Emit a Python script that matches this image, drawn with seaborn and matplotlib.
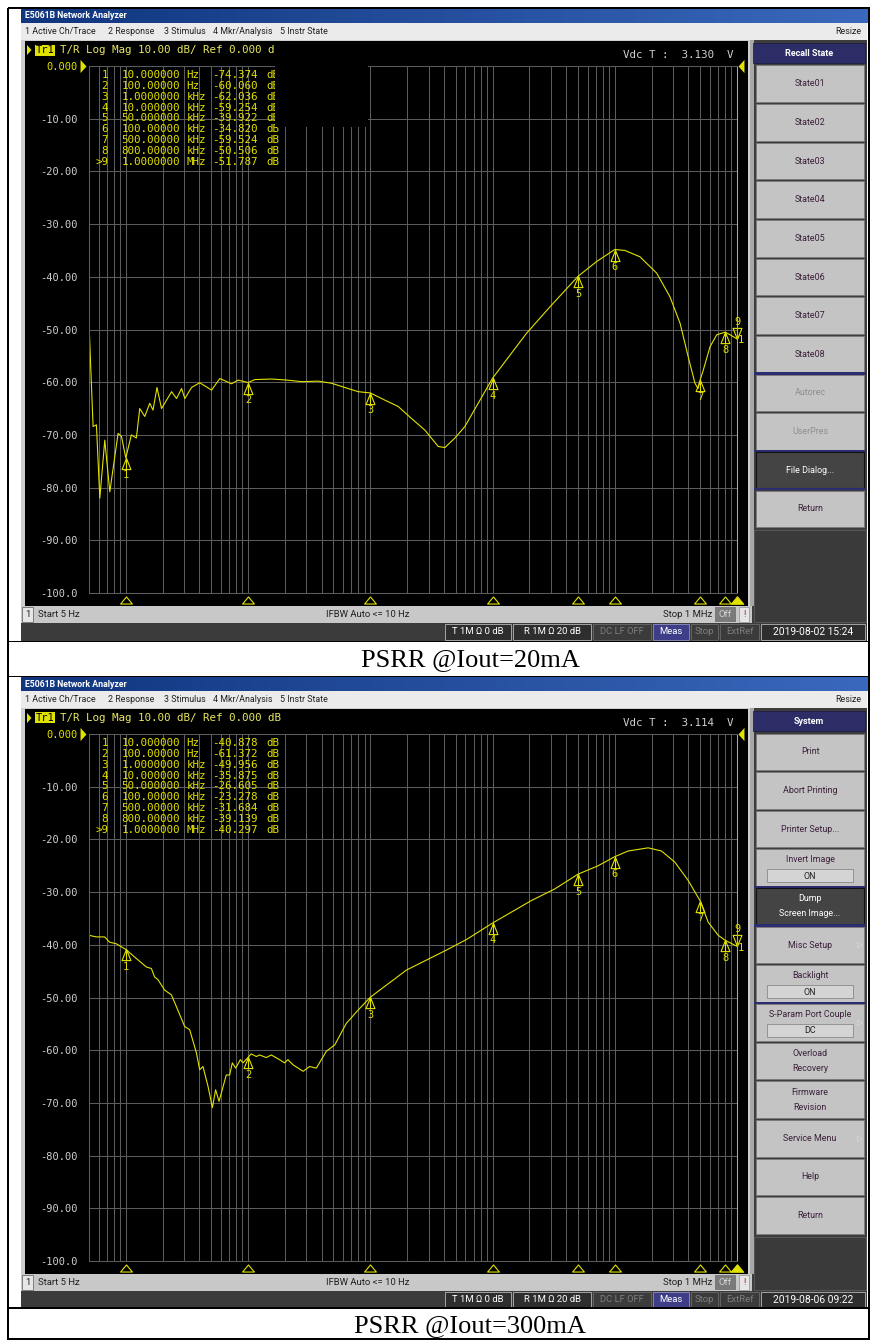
import numpy as np
import pandas as pd
import matplotlib
matplotlib.use("Agg")
import matplotlib.pyplot as plt
import seaborn as sns
from matplotlib.patches import Rectangle, Polygon
from matplotlib.path import Path
from matplotlib.markers import MarkerStyle
from matplotlib.colors import LinearSegmentedColormap
from matplotlib.ticker import LogLocator, NullFormatter
from matplotlib.transforms import blended_transform_factory

# trace, Iout = 20 mA  (Hz, dB)
freq_20ma = [5.0, 5.24, 5.40, 5.75, 6.13, 6.73, 7.40, 8.65, 9.22, 10, 11.1, 12.2, 13.0, 14.3,
             15.7, 16.7, 18.0, 19.6, 23.7, 26.0, 28.6, 30.4, 34.5, 40.3, 50.3, 58.8, 73.3, 83.0,
             100, 114, 156, 209, 274, 375, 482, 659, 796, 1000, 1315, 1690, 2177, 2799, 3596,
             4078, 4923, 5944, 10000, 19000, 29500, 50000, 71100, 100000, 121000, 160700,
             220300, 283000, 342000, 399000, 453000, 480000, 500000, 530000, 601000, 682000,
             800000, 877000, 1000000]
db_20ma = [-48.8, -60.8, -68.4, -68.1, -82.0, -71.0, -80.8, -69.7, -70.3, -74.374, -70.0, -70.6,
           -65.0, -66.5, -64.0, -65.3, -61.0, -65.0, -61.8, -63.1, -61.2, -63.1, -61.0, -60.1,
           -61.5, -59.3, -60.3, -59.6, -60.06, -59.5, -59.4, -59.6, -59.9, -59.8, -60.2, -61.2,
           -61.8, -62.036, -63.4, -64.6, -66.9, -69.1, -72.2, -72.4, -70.6, -68.4, -59.254,
           -50.7, -45.7, -39.922, -37.1, -34.82, -35.0, -36.2, -39.3, -43.8, -48.8, -55.2,
           -60.2, -61.2, -59.524, -57.7, -53.3, -51.0, -50.506, -51.0, -51.787]

# trace, Iout = 300 mA
freq_300ma = [5.0, 5.74, 6.71, 7.37, 8.36, 10, 12.2, 14.7, 16.2, 17.2, 18.3, 20.8, 23.6, 25.9,
              30.3, 33.3, 37.8, 40.2, 42.8, 47.1, 51.1, 54.3, 57.9, 66.4, 70.7, 74.4, 79.2,
              86.5, 91.0, 100, 106, 117, 124, 141, 155, 181, 199, 212, 234, 282, 319, 362, 437,
              512, 637, 794, 1000, 1194, 1537, 1974, 2877, 4196, 6120, 10000, 20800, 32300,
              50000, 73100, 100000, 128800, 187600, 241000, 309700, 399000, 500000, 581000,
              702000, 800000, 1000000]
db_300ma = [-38.2, -38.5, -38.5, -39.5, -39.8, -40.878, -42.6, -44.2, -44.5, -46.1, -46.6, -48.6,
            -49.5, -51.7, -55.5, -56.1, -60.5, -63.7, -63.1, -66.9, -70.9, -67.5, -69.7, -64.7,
            -64.7, -62.4, -63.4, -61.8, -62.4, -61.372, -60.7, -61.2, -60.9, -61.4, -60.9, -61.8,
            -62.4, -61.8, -62.8, -64.0, -63.1, -63.4, -60.2, -59.0, -54.9, -52.4, -49.956, -48.6,
            -46.7, -44.8, -42.9, -41.0, -39.0, -35.875, -31.6, -29.4, -26.605, -25.0, -23.278,
            -22.2, -21.6, -22.2, -24.3, -27.8, -31.684, -35.7, -38.2, -39.139, -40.297]

marker_freq = [10, 100, 1e3, 1e4, 5e4, 1e5, 5e5, 8e5, 1e6]
marker_db_20ma = [-74.374, -60.060, -62.036, -59.254, -39.922, -34.820, -59.524, -50.506, -51.787]
marker_db_300ma = [-40.878, -61.372, -49.956, -35.875, -26.605, -23.278, -31.684, -39.139, -40.297]
marker_freq_text = ["10.000000", "100.00000", "1.0000000", "10.000000", "50.000000",
                    "100.00000", "500.00000", "800.00000", "1.0000000"]
marker_unit = ["Hz", "Hz", "kHz", "kHz", "kHz", "kHz", "kHz", "kHz", "MHz"]

ytick_db = [0, -10, -20, -30, -40, -50, -60, -70, -80, -90, -100]
ytick_text = ["0.000", "-10.00", "-20.00", "-30.00", "-40.00", "-50.00",
              "-60.00", "-70.00", "-80.00", "-90.00", "-100.0"]

menu_items = ["1 Active Ch/Trace", "2 Response", "3 Stimulus", "4 Mkr/Analysis", "5 Instr State"]
softkeys_20ma = [("State01", "n"), ("State02", "n"), ("State03", "n"), ("State04", "n"),
                 ("State05", "n"), ("State06", "n"), ("State07", "n"), ("State08", "n"),
                 ("Autorec", "dim"), ("UserPres", "dim"), ("File Dialog...", "dark"), ("Return", "n")]
softkeys_300ma = [("Print", "n"), ("Abort Printing", "n"), ("Printer Setup...", "n"),
                  ("Invert Image\nON", "sub"), ("Dump\nScreen Image...", "dark"),
                  ("Misc Setup", "arrow"), ("Backlight\nON", "sub"),
                  ("S-Param Port Couple\nDC", "subarrow"), ("Overload\nRecovery", "n"),
                  ("Firmware\nRevision", "n"), ("Service Menu", "arrow"), ("Help", "n"),
                  ("Return", "n")]
vdc_text = ["3.130", "3.114"]
timestamps = ["2019-08-02 15:24", "2019-08-06 09:22"]
captions = ["PSRR @Iout=20mA", "PSRR @Iout=300mA"]

YEL = "#e2e200"
GRID = "#5c5c5c"
UI = "Roboto"
MONO = "DejaVu Sans Mono"
W, H = 872, 1340

fig = plt.figure(figsize=(W / 100, H / 100), dpi=100)
fig.patch.set_facecolor("white")


def fx(x):
    return x / W


def fy(y):
    return 1 - y / H


def rect(x0, y0, x1, y1, fc, ec="none", lw=0, z=-5):
    fig.add_artist(Rectangle((fx(x0), fy(y1)), (x1 - x0) / W, (y1 - y0) / H,
                             transform=fig.transFigure, fc=fc, ec=ec, lw=lw, zorder=z))


def text(x, y, s, size=6.3, color="black", ha="left", va="center", family=UI, weight="normal", z=5):
    fig.text(fx(x), fy(y), s, fontsize=size, color=color, ha=ha, va=va,
             family=family, fontweight=weight, zorder=z)


def poly(pts, fc, z=2):
    fig.add_artist(Polygon([(fx(a), fy(b)) for a, b in pts], closed=True,
                           transform=fig.transFigure, fc=fc, ec="none", zorder=z))


title_cmap = LinearSegmentedColormap.from_list("tb", ["#10357f", "#3a68bc"])
codes_tri = [Path.MOVETO, Path.LINETO, Path.LINETO, Path.CLOSEPOLY, Path.MOVETO, Path.LINETO]
mk_up = MarkerStyle(Path([(0, 0), (-0.4, -1), (0.4, -1), (0, 0), (0, 0), (0, -1)], codes_tri))
mk_down = MarkerStyle(Path([(0, 0), (-0.4, 1), (0.4, 1), (0, 0), (0, 0), (0, 1)], codes_tri))
mk_flat = MarkerStyle(Path([(-1, -0.6), (1, -0.6), (0, 0.6), (-1, -0.6)],
                           [Path.MOVETO, Path.LINETO, Path.LINETO, Path.CLOSEPOLY]))
mk_right = MarkerStyle(Path([(-0.45, -1), (0.45, 0), (-0.45, 1), (-0.45, -1)],
                            [Path.MOVETO, Path.LINETO, Path.LINETO, Path.CLOSEPOLY]))
mk_left = MarkerStyle(Path([(0.45, -1), (-0.45, 0), (0.45, 1), (0.45, -1)],
                           [Path.MOVETO, Path.LINETO, Path.LINETO, Path.CLOSEPOLY]))


def draw_trace(oy, freq, db, mk_db):
    ax = fig.add_axes([fx(89), fy(593 + oy), 648 / W, 527 / H])
    ax.set_facecolor("black")
    data = pd.DataFrame({"freq": freq, "db": db})
    sns.lineplot(data=data, x="freq", y="db", ax=ax, color=YEL, lw=0.8,
                 estimator=None, sort=False, legend=False)
    ax.set_xscale("log")
    ax.set_xlim(5, 1e6)
    ax.set_ylim(-100, 0)
    ax.xaxis.set_major_locator(LogLocator(base=10, numticks=20))
    ax.xaxis.set_minor_locator(LogLocator(base=10, subs=np.arange(2, 10), numticks=200))
    ax.xaxis.set_minor_formatter(NullFormatter())
    ax.set_yticks(ytick_db)
    ax.set_yticklabels(ytick_text)
    ax.grid(which="both", axis="both", color=GRID, lw=0.75)
    ax.tick_params(which="both", length=0, labelbottom=False, pad=8,
                   labelsize=7.5, labelcolor="#cfcfcf")
    for lab in ax.get_yticklabels():
        lab.set_fontfamily(MONO)
    ax.get_yticklabels()[0].set_color(YEL)
    for s in ax.spines.values():
        s.set_color(GRID)
        s.set_linewidth(0.75)
    ax.spines["right"].set_color("#a8a8a8")
    ax.set_xlabel("")
    ax.set_ylabel("")

    # markers on the trace
    ax.plot(marker_freq[:-1], mk_db[:-1], ls="none", marker=mk_up, ms=16,
            mfc="none", mec=YEL, mew=0.8, clip_on=False)
    for i, (f, v) in enumerate(zip(marker_freq[:-1], mk_db[:-1])):
        ax.annotate(str(i + 1), (f, v), xytext=(0, -12.5), textcoords="offset points",
                    ha="center", va="center", color=YEL, fontsize=7.5, family=MONO)
    ax.plot(marker_freq[-1:], mk_db[-1:], ls="none", marker=mk_down, ms=16,
            mfc="none", mec=YEL, mew=0.8, clip_on=False)
    ax.annotate("9", (marker_freq[-1], mk_db[-1]), xytext=(0, 12.5), textcoords="offset points",
                ha="center", va="center", color=YEL, fontsize=7.5, family=MONO, annotation_clip=False)
    ax.annotate("1", (marker_freq[-1], mk_db[-1]), xytext=(3, -1), textcoords="offset points",
                ha="center", va="center", color=YEL, fontsize=7.5, family=MONO, annotation_clip=False)

    # marker position triangles under the graticule
    bt = blended_transform_factory(ax.transData, ax.transAxes)
    ax.plot(marker_freq[:-1], [-0.0135] * (len(marker_freq) - 1), transform=bt, ls="none",
            marker=mk_flat, ms=8.5, mfc="none", mec=YEL, mew=0.8, clip_on=False)
    ax.plot(marker_freq[-1:], [-0.0135], transform=bt, ls="none",
            marker=mk_flat, ms=9, mfc=YEL, mec=YEL, mew=0.8, clip_on=False)

    # reference level pointers
    rt = blended_transform_factory(ax.transAxes, ax.transData)
    ax.plot([-0.0085], [0], transform=rt, ls="none", marker=mk_right, ms=9.5,
            mfc=YEL, mec="none", clip_on=False)
    ax.plot([1.0062], [0], transform=rt, ls="none", marker=mk_left, ms=9.5,
            mfc=YEL, mec="none", clip_on=False)
    return ax


def draw_softkeys(oy, title, keys, navy_above):
    rect(750, oy + 40, 867, oy + 623, "#3d3d3d")
    rect(750, oy + 40, 754, oy + 606, "#a8a8a8")
    rect(753, oy + 43, 865, oy + 63, "#2c2c66", ec="#1a1a40", lw=0.5)
    text(809, oy + 53, title, color="white", weight="bold", ha="center", size=6.5)
    pitch = 38.65
    for i, (label, style) in enumerate(keys):
        t = oy + 65.5 + i * pitch
        b = t + 36.5
        if i in navy_above:
            rect(754, t - 2.4, 866, t - 0.2, "#2c2c70")
        if style == "dark":
            rect(756, t, 864, b, "#444444", ec="#111111", lw=0.8)
            col = "white"
        else:
            rect(756, t, 864, b, "#c4c4c4", ec="#7c7c7c", lw=0.6)
            col = "#8e8e8e" if style == "dim" else "#3a1f3a"
        cy = (t + b) / 2
        lines = label.split("\n")
        if style in ("sub", "subarrow"):
            text(810, t + 10.5, lines[0], color=col, ha="center", size=6.4)
            rect(767, t + 20, 853, t + 33, "#d4d4d4", ec="#8a8a8a", lw=0.6)
            text(810, t + 26.8, lines[1], color="#202020", ha="center", size=6.4)
        elif len(lines) == 2:
            text(810, cy - 7.5, lines[0], color=col, ha="center", size=6.4)
            text(810, cy + 7.5, lines[1], color=col, ha="center", size=6.4)
        else:
            text(810, cy, label, color=col, ha="center", size=6.4)
        if style in ("arrow", "subarrow"):
            text(860, cy, "\u25b7", color="#e4e4e4", ha="center", size=5.5, family="DejaVu Sans")
    last = oy + 65.5 + len(keys) * pitch
    rect(754, last + 1, 866, oy + 622, "#3a3a3a", ec="#5c5c5c", lw=0.6)


def draw_screen(oy, freq, db, mk_db, title, keys, navy_above, vdc, stamp, redact):
    # window title and menu
    gax = fig.add_axes([fx(21), fy(oy + 23), 846 / W, 14 / H])
    gax.imshow(np.linspace(0, 1, 256)[None, :], aspect="auto", cmap=title_cmap, extent=[0, 1, 0, 1])
    gax.set_axis_off()
    gax.set_zorder(-4)
    text(25, oy + 16, "E5061B Network Analyzer", size=6.3, color="white", weight="bold")
    rect(21, oy + 23, 867, oy + 40, "#ebebeb")
    for label, x in zip(menu_items, [25, 108, 164, 213, 280]):
        text(x, oy + 31.5, label, size=6.4, color="#202020")
    text(861, oy + 31.5, "Resize", size=6.4, color="#202020", ha="right")

    # measurement area
    rect(21, oy + 40, 752, oy + 623, "#cfcfcf")
    rect(25, oy + 41, 748, oy + 606, "black")
    draw_trace(oy, freq, db, mk_db)

    # trace header
    poly([(27, oy + 45), (31.5, oy + 50), (27, oy + 55)], YEL)
    rect(35, oy + 44.5, 55, oy + 55.5, YEL, z=1)
    text(45, oy + 50, "Tr1", size=7.5, color="black", ha="center", family=MONO, z=2)
    text(60, oy + 50, "T/R Log Mag 10.00 dB/ Ref 0.000 dB", size=7.8, color="#e8e860",
         family=MONO, z=2)
    text(623, oy + 55, "Vdc T :  " + vdc + "  V", size=7.8, color="#cfcfcf", family=MONO, z=2)

    # marker table
    for i in range(len(marker_freq)):
        y = oy + 75 + 10.84 * i
        num = ">9" if i == len(marker_freq) - 1 else str(i + 1)
        text(108, y, num, size=7.8, color=YEL, ha="right", family=MONO, z=2)
        text(121.5, y, marker_freq_text[i], size=7.8, color=YEL, family=MONO, z=2)
        text(186.5, y, marker_unit[i], size=7.8, color=YEL, family=MONO, z=2)
        text(212.5, y, f"{mk_db[i]:.3f}", size=7.8, color=YEL, family=MONO, z=2)
        text(266.5, y, "dB", size=7.8, color=YEL, family=MONO, z=2)
    if redact:
        rect(275, oy + 41, 368, oy + 127, "black", z=3)

    draw_softkeys(oy, title, keys, navy_above)

    # channel status bar
    rect(21, oy + 606, 752, oy + 623, "#c8c8c8")
    rect(22, oy + 607, 33, oy + 622, "#e6e6e6", ec="#707070", lw=0.6)
    text(27.5, oy + 614.5, "1", size=6.8, color="#202020", ha="center")
    text(38, oy + 614.5, "Start 5 Hz", size=6.8, color="#202020")
    text(368, oy + 614.5, "IFBW Auto <= 10 Hz", size=6.8, color="#202020", ha="center")
    text(712, oy + 614.5, "Stop 1 MHz", size=6.8, color="#202020", ha="right")
    rect(715, oy + 607, 736, oy + 622, "#7a7a7a")
    text(725.5, oy + 614.5, "Off", size=6.8, color="#d6d6d6", ha="center")
    rect(739, oy + 607, 749, oy + 622, "#e6e6e6", ec="#909090", lw=0.5)
    text(744, oy + 614.5, "!", size=6.8, color="#c02020", ha="center")

    # instrument status bar
    rect(21, oy + 623, 867, oy + 641, "#3b3b3b")
    items = [("T 1M \u03a9 0 dB", 445, 511, "on"), ("R 1M \u03a9 20 dB", 513, 591, "on"),
             ("DC LF OFF", 593, 651, "off"), ("Meas", 653, 689, "meas"),
             ("Stop", 691, 718, "off"), ("ExtRef", 720, 759, "off"), (stamp, 761, 865, "on")]
    for label, x0, x1, st in items:
        fc, ec, tc = {"on": ("#2e2e2e", "#b4b4b4", "white"),
                      "off": ("#3b3b3b", "#6a6a6a", "#7e7e7e"),
                      "meas": ("#3e3e88", "#9090c0", "white")}[st]
        rect(x0, oy + 624, x1, oy + 640, fc, ec=ec, lw=0.6)
        size = 7.4 if label == stamp else 6.8
        text((x0 + x1) / 2, oy + 632, label, size=size, color=tc, ha="center")


draw_screen(0, freq_20ma, db_20ma, marker_db_20ma, "Recall State", softkeys_20ma, [8, 10, 11],
            vdc_text[0], timestamps[0], True)
draw_screen(668, freq_300ma, db_300ma, marker_db_300ma, "System", softkeys_300ma, [4, 5, 7],
            vdc_text[1], timestamps[1], False)

# document table around the screenshots
text(470, 660, captions[0], size=19, color="black", ha="center", family="Liberation Serif")
text(470, 1326, captions[1], size=19, color="black", ha="center", family="Liberation Serif")
for y in [8, 641.5, 676.5, 1308, 1339]:
    rect(8, y - 0.7, 869.5, y + 0.7, "black", z=6)
for x in [8, 869]:
    rect(x - 0.7, 8, x + 0.7, 1339.5, "black", z=6)

fig.savefig("out.png", dpi=100, facecolor="white")
